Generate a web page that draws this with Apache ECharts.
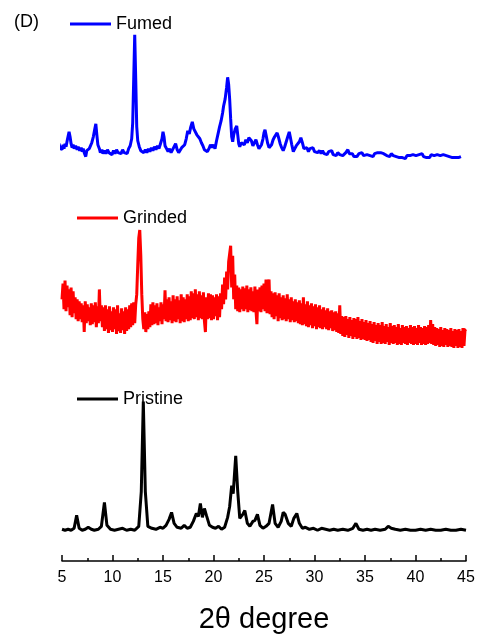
<!DOCTYPE html>
<html>
<head>
<meta charset="utf-8">
<style>
  html, body { margin: 0; padding: 0; background: #fff; }
  #chart { width: 481px; height: 639px; }
</style>
<script src="https://cdn.jsdelivr.net/npm/echarts@6/dist/echarts.min.js"></script>
</head>
<body>
<div id="chart"></div>
<script>
// 2θ (deg), intensity above each trace's own baseline (arb. units)
const fumed = [
  [4.5,14],[4.6,10],[4.7,15],[4.8,11],[4.9,13],[5.0,9],[5.1,14],[5.2,10],[5.3,15],[5.4,12],
  [5.55,20],[5.7,27],[5.8,22],[5.9,15],[6.0,11],[6.1,14],[6.2,10],[6.35,13],[6.5,9],[6.6,12],
  [6.75,8],[6.9,11],[7.0,7],[7.1,10],[7.2,6],[7.35,2],[7.45,8],[7.6,6],[7.7,10],[7.8,12],
  [7.95,16],[8.1,22],[8.25,30],[8.35,35],[8.45,24],[8.55,14],[8.7,10],[8.8,6],[8.95,9],[9.05,5],
  [9.2,8],[9.35,5],[9.5,9],[9.65,6],[9.8,8],[9.95,4],[10.1,8],[10.25,5],[10.4,9],[10.55,6],
  [10.7,8],[10.85,5],[11.0,9],[11.15,6],[11.3,8],[11.45,5],[11.6,10],[11.75,13],[11.9,20],[12.0,36],
  [12.1,80],[12.2,125],[12.3,80],[12.4,32],[12.5,18],[12.65,12],[12.8,8],[12.95,10],[13.1,6],[13.25,9],
  [13.4,6],[13.55,10],[13.7,7],[13.85,11],[14.0,8],[14.15,12],[14.3,9],[14.45,13],[14.6,10],[14.75,15],
  [14.9,20],[15.0,27],[15.1,22],[15.2,13],[15.35,10],[15.5,7],[15.65,10],[15.8,6],[15.95,9],[16.1,12],
  [16.25,15],[16.4,9],[16.55,6],[16.7,8],[16.85,11],[17.0,9],[17.15,14],[17.3,20],[17.45,28],[17.6,25],
  [17.75,32],[17.9,37],[18.05,30],[18.2,29],[18.35,24],[18.5,26],[18.65,20],[18.8,16],[18.95,13],[19.1,9],
  [19.25,11],[19.4,7],[19.55,10],[19.7,14],[19.85,11],[20.0,14],[20.15,10],[20.3,18],[20.45,25],[20.6,32],
  [20.75,38],[20.9,46],[21.0,53],[21.15,60],[21.3,72],[21.4,82],[21.5,75],[21.6,60],[21.7,40],[21.8,22],
  [21.9,17],[22.0,24],[22.15,30],[22.3,33],[22.4,24],[22.5,15],[22.6,12],[22.75,16],[22.9,18],[23.05,14],
  [23.2,19],[23.35,16],[23.5,21],[23.6,23],[23.75,18],[23.9,13],[24.05,16],[24.2,19],[24.35,14],[24.5,10],
  [24.6,8],[24.75,14],[24.9,20],[25.0,26],[25.1,29],[25.2,24],[25.35,16],[25.5,11],[25.6,10],[25.75,14],
  [25.9,19],[26.05,22],[26.2,24],[26.3,26],[26.45,21],[26.6,15],[26.75,11],[26.9,8],[27.05,12],[27.2,17],
  [27.35,22],[27.5,27],[27.6,22],[27.75,14],[27.9,7],[28.05,10],[28.2,13],[28.35,15],[28.5,17],[28.65,21],
  [28.8,16],[28.95,10],[29.1,8],[29.25,11],[29.4,7],[29.55,10],[29.7,8],[29.85,11],[30.0,7],[30.15,9],
  [30.3,6],[30.5,8],[30.65,5],[30.8,8],[30.95,5],[31.1,7],[31.25,4],[31.4,7],[31.55,5],[31.7,8],
  [31.85,4],[32.0,6],[32.15,3],[32.3,6],[32.5,4],[32.65,6],[32.8,3],[32.95,5],[33.1,6],[33.3,9],
  [33.45,5],[33.6,3],[33.75,5],[33.9,2],[34.05,4],[34.2,2],[34.4,5],[34.55,3],[34.7,6],[34.85,3],
  [35.0,5],[35.2,4],[35.35,6],[35.5,3],[35.65,5],[35.8,2],[35.95,5],[36.1,3],[36.25,6],[36.4,4],
  [36.55,6],[36.7,7],[36.85,5],[37.0,6],[37.15,3],[37.3,5],[37.45,2],[37.6,5],[37.8,3],[37.95,5],
  [38.1,2],[38.25,4],[38.4,1],[38.55,3],[38.7,1],[38.85,3],[39.0,0],[39.15,3],[39.3,1],[39.45,3],
  [39.6,2],[39.75,4],[39.9,2],[40.05,3],[40.2,1],[40.35,4],[40.5,3],[40.65,5],[40.8,2],[40.95,4],
  [41.1,1],[41.25,3],[41.4,1],[41.55,4],[41.7,2],[41.85,3],[42.0,1],[42.15,4],[42.3,2],[42.45,3],
  [42.6,1],[42.75,4],[42.9,2],[43.05,3],[43.2,4],[43.35,2],[43.5,3],[43.65,1],[43.8,3],[43.95,1],
  [44.1,3],[44.25,1],[44.4,3],[44.5,2]
];

const grinded = [
  [5.0,50],[5.1,66],[5.2,40],[5.3,69],[5.4,38],[5.5,64],[5.6,42],[5.7,60],[5.8,34],[5.9,62],
  [6.0,32],[6.1,58],[6.2,36],[6.3,52],[6.4,30],[6.5,50],[6.6,28],[6.7,48],[6.8,30],[6.9,46],
  [7.0,27],[7.1,44],[7.2,17],[7.3,48],[7.4,26],[7.5,45],[7.6,28],[7.7,42],[7.8,24],[7.9,46],
  [8.0,25],[8.1,44],[8.2,27],[8.3,47],[8.4,22],[8.5,43],[8.6,26],[8.7,60],[8.8,28],[8.9,44],
  [9.0,22],[9.1,42],[9.2,18],[9.3,44],[9.4,20],[9.5,40],[9.6,16],[9.7,43],[9.8,19],[9.9,38],
  [10.0,17],[10.1,42],[10.2,20],[10.3,40],[10.4,15],[10.5,44],[10.6,18],[10.7,36],[10.8,16],[10.9,41],
  [11.0,19],[11.1,38],[11.2,15],[11.3,42],[11.4,18],[11.5,40],[11.6,20],[11.7,44],[11.8,22],[11.9,46],
  [12.0,24],[12.1,47],[12.2,26],[12.3,45],[12.4,55],[12.5,85],[12.6,112],[12.7,120],[12.8,95],[12.9,55],
  [13.0,30],[13.1,20],[13.2,37],[13.3,17],[13.4,35],[13.5,20],[13.6,38],[13.7,22],[13.8,45],[13.9,24],
  [14.0,47],[14.1,25],[14.2,44],[14.3,26],[14.4,46],[14.5,24],[14.6,42],[14.7,28],[14.8,47],[14.9,25],
  [15.0,45],[15.1,30],[15.2,59],[15.3,28],[15.4,50],[15.5,27],[15.6,52],[15.7,29],[15.8,48],[15.9,26],
  [16.0,54],[16.1,28],[16.2,50],[16.3,27],[16.4,53],[16.5,30],[16.6,49],[16.7,26],[16.8,55],[16.9,28],
  [17.0,52],[17.1,27],[17.2,50],[17.3,30],[17.4,55],[17.5,28],[17.6,53],[17.7,29],[17.8,58],[17.9,31],
  [18.0,56],[18.1,30],[18.2,60],[18.3,32],[18.4,55],[18.5,29],[18.6,58],[18.7,31],[18.8,54],[18.9,30],
  [19.0,57],[19.1,28],[19.2,17],[19.3,52],[19.4,30],[19.5,56],[19.6,31],[19.7,55],[19.8,29],[19.9,54],
  [20.0,30],[20.1,52],[20.2,33],[20.3,55],[20.4,29],[20.5,53],[20.6,32],[20.7,56],[20.8,40],[20.9,65],
  [21.0,45],[21.1,72],[21.2,50],[21.3,78],[21.4,60],[21.5,88],[21.6,96],[21.7,104],[21.8,62],[21.9,94],
  [22.0,50],[22.1,75],[22.2,40],[22.3,64],[22.4,38],[22.5,62],[22.6,37],[22.7,60],[22.8,40],[22.9,63],
  [23.0,38],[23.1,61],[23.2,40],[23.3,64],[23.4,37],[23.5,60],[23.6,39],[23.7,62],[23.8,38],[23.9,58],
  [24.0,37],[24.1,63],[24.2,39],[24.3,25],[24.4,60],[24.5,38],[24.6,62],[24.7,37],[24.8,64],[24.9,40],
  [25.0,66],[25.1,38],[25.2,70],[25.3,36],[25.4,62],[25.5,70],[25.6,35],[25.7,58],[25.8,32],[25.9,56],
  [26.0,30],[26.1,57],[26.2,33],[26.3,54],[26.4,28],[26.5,56],[26.6,31],[26.7,52],[26.8,29],[26.9,54],
  [27.0,30],[27.1,51],[27.2,28],[27.3,55],[27.4,30],[27.5,50],[27.6,27],[27.7,52],[27.8,29],[27.9,48],
  [28.0,27],[28.1,50],[28.2,28],[28.3,47],[28.4,26],[28.5,49],[28.6,25],[28.7,46],[28.8,24],[28.9,52],
  [29.0,25],[29.1,45],[29.2,23],[29.3,48],[29.4,22],[29.5,44],[29.6,24],[29.7,46],[29.8,21],[29.9,43],
  [30.0,23],[30.1,45],[30.2,20],[30.3,42],[30.4,22],[30.5,44],[30.6,21],[30.7,40],[30.8,20],[30.9,42],
  [31.0,22],[31.1,39],[31.2,20],[31.3,41],[31.4,19],[31.5,38],[31.6,21],[31.7,39],[31.8,18],[31.9,37],
  [32.0,19],[32.1,38],[32.2,17],[32.3,36],[32.4,16],[32.5,44],[32.6,15],[32.7,33],[32.8,13],[32.9,32],
  [33.0,12],[33.1,33],[33.2,14],[33.3,30],[33.4,11],[33.5,32],[33.6,13],[33.7,29],[33.8,10],[33.9,31],
  [34.0,12],[34.1,30],[34.2,10],[34.3,32],[34.4,11],[34.5,28],[34.6,9],[34.7,30],[34.8,10],[34.9,27],
  [35.0,9],[35.1,29],[35.2,8],[35.3,26],[35.4,9],[35.5,28],[35.6,7],[35.7,25],[35.8,6],[35.9,27],
  [36.0,8],[36.1,24],[36.2,5],[36.3,26],[36.4,7],[36.5,24],[36.6,5],[36.7,27],[36.8,6],[36.9,23],
  [37.0,5],[37.1,25],[37.2,7],[37.3,22],[37.4,4],[37.5,26],[37.6,6],[37.7,23],[37.8,5],[37.9,24],
  [38.0,6],[38.1,22],[38.2,4],[38.3,25],[38.4,5],[38.5,21],[38.6,4],[38.7,24],[38.8,6],[38.9,22],
  [39.0,5],[39.1,23],[39.2,4],[39.3,21],[39.4,6],[39.5,24],[39.6,5],[39.7,22],[39.8,4],[39.9,23],
  [40.0,5],[40.1,21],[40.2,4],[40.3,24],[40.4,6],[40.5,22],[40.6,4],[40.7,21],[40.8,5],[40.9,23],
  [41.0,4],[41.1,22],[41.2,5],[41.3,24],[41.4,6],[41.5,29],[41.6,5],[41.7,25],[41.8,4],[41.9,22],
  [42.0,3],[42.1,21],[42.2,4],[42.3,20],[42.4,2],[42.5,22],[42.6,3],[42.7,19],[42.8,2],[42.9,21],
  [43.0,4],[43.1,20],[43.2,2],[43.3,19],[43.4,3],[43.5,21],[43.6,2],[43.7,18],[43.8,1],[43.9,20],
  [44.0,3],[44.1,19],[44.2,1],[44.3,20],[44.4,2],[44.5,18],[44.6,1],[44.7,21],[44.8,3],[44.9,19],
  [45.0,20]
];

const pristine = [
  [5.0,2],[5.3,1],[5.6,2],[5.9,1],[6.2,3],[6.45,16],[6.7,3],[7.0,1],[7.3,2],[7.6,4],
  [7.9,2],[8.2,1],[8.6,2],[8.9,5],[9.2,29],[9.45,6],[9.8,2],[10.2,1],[10.6,2],[11.0,3],
  [11.4,1],[11.8,2],[12.2,1],[12.6,5],[12.85,40],[13.05,131],[13.25,40],[13.5,5],[13.9,3],[14.3,2],
  [14.7,4],[15.0,3],[15.3,6],[15.6,12],[15.85,19],[16.1,8],[16.4,4],[16.8,3],[17.1,6],[17.4,3],
  [17.7,4],[18.0,10],[18.3,18],[18.5,15],[18.7,28],[18.9,14],[19.1,23],[19.3,16],[19.6,6],[19.9,4],
  [20.2,3],[20.5,5],[20.8,2],[21.1,4],[21.4,14],[21.6,25],[21.8,46],[21.95,38],[22.2,76],[22.4,40],
  [22.6,13],[22.9,17],[23.1,21],[23.35,8],[23.6,5],[23.9,10],[24.1,11],[24.35,17],[24.6,6],[24.9,3],
  [25.2,5],[25.5,8],[25.85,27],[26.1,8],[26.4,4],[26.7,10],[26.9,19],[27.1,17],[27.4,8],[27.7,5],
  [27.95,13],[28.25,18],[28.5,8],[28.8,3],[29.1,4],[29.5,2],[29.9,3],[30.3,1],[30.7,3],[31.1,2],
  [31.5,1],[31.9,2],[32.3,1],[32.8,2],[33.3,1],[33.8,3],[34.1,8],[34.4,2],[34.8,1],[35.2,2],
  [35.6,1],[36.0,2],[36.5,1],[37.0,2],[37.3,5],[37.6,3],[38.0,2],[38.5,1],[39.0,2],[39.5,1],
  [40.0,1],[40.5,2],[41.0,1],[41.5,2],[42.0,1],[42.5,1],[43.0,2],[43.5,1],[44.0,1],[44.5,2],[45.0,1]
];

const names = ['Fumed', 'Grinded', 'Pristine'];
const colors = ['#0000ff', '#ff0000', '#000000'];
// vertical offsets used to stack the patterns
const offsets = [406, 214, 30];

const font = 'Liberation Sans, Arial, sans-serif';
const chart = echarts.init(document.getElementById('chart'));

const traces = [fumed, grinded, pristine];
const series = traces.map((d, i) => ({
  name: names[i],
  type: 'line',
  symbol: 'none',
  clip: false,
  data: d.map(p => [p[0], p[1] + offsets[i]]),
  lineStyle: { color: colors[i], width: 3 },
  itemStyle: { color: colors[i] }
}));

const legendPos = [[70, 15], [77, 209], [77, 390]];
const legend = names.map((n, i) => ({
  data: [n],
  left: legendPos[i][0],
  top: legendPos[i][1],
  padding: 0,
  icon: 'rect',
  itemWidth: 41,
  itemHeight: 3,
  selectedMode: false,
  textStyle: { fontSize: 18, color: '#000', fontFamily: font }
}));

chart.setOption({
  animation: false,
  backgroundColor: '#fff',
  title: {
    text: '(D)',
    left: 14,
    top: 13,
    padding: 0,
    textStyle: { fontSize: 18, fontWeight: 'normal', color: '#000', fontFamily: font }
  },
  legend: legend,
  grid: { left: 62, right: 15, top: 0, bottom: 73 },
  xAxis: {
    type: 'value',
    min: 5,
    max: 45,
    interval: 5,
    name: '2θ degree',
    nameLocation: 'middle',
    nameGap: 44,
    nameTextStyle: { fontSize: 29, color: '#000', fontFamily: font },
    axisLine: { lineStyle: { color: '#000', width: 1.5 } },
    axisTick: { inside: true, length: 6, lineStyle: { color: '#000', width: 1.5 } },
    minorTick: { show: true, splitNumber: 2, length: 3, lineStyle: { color: '#000', width: 1.5 } },
    axisLabel: { fontSize: 16, color: '#000', margin: 9, fontFamily: font },
    splitLine: { show: false }
  },
  yAxis: {
    type: 'value',
    min: 0,
    max: 566,
    show: false
  },
  series: series
});
</script>
</body>
</html>
